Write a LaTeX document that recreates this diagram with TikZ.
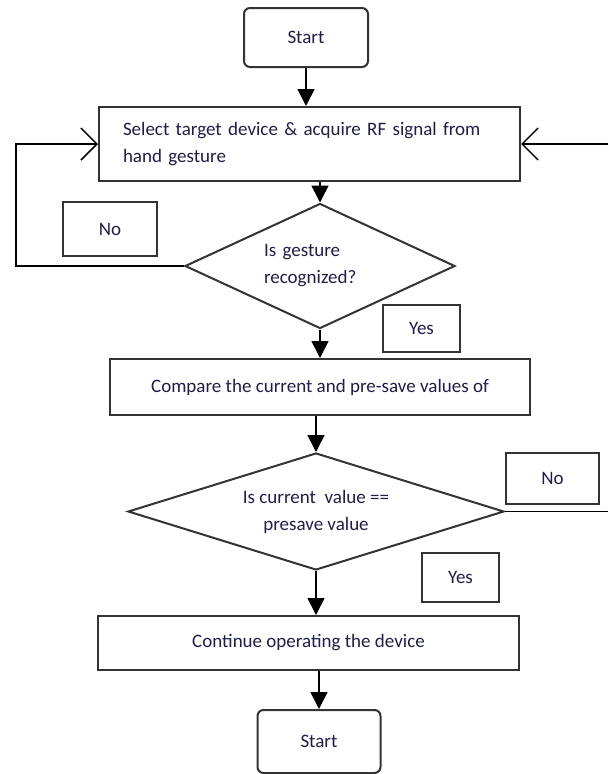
\documentclass[tikz,border=0pt]{standalone}
\usepackage{fontspec}
\setmainfont{Carlito}
\usetikzlibrary{shapes.geometric, arrows.meta}

\definecolor{inkblue}{RGB}{30, 30, 70}

\tikzset{
	box/.style = {draw = black!80, line width = 2pt, text = inkblue, inner sep = 0pt},
	terminal/.style = {box, rounded corners = 6pt},
	decision/.style = {box, diamond, shape aspect = 2},
	tag/.style = {box, line width = 1.8pt},
	flow/.style = {line width = 1.6pt, -{Triangle[length = 17pt, width = 17pt]}},
	loop/.style = {line width = 1.5pt, -{Straight Barb[length = 16pt, width = 32pt, line width = 1.5pt]}}
}

\begin{document}
\begin{tikzpicture}[x = 1pt, y = -1pt, every node/.style = {font = \fontsize{19}{27}\selectfont}]

	\useasboundingbox (0, 0) rectangle (608, 774);

	% Terminals

	\node [terminal, minimum width = 124pt, minimum height = 59pt] (begin) at (306, 37.5) {Start};
	\node [terminal, minimum width = 123pt, minimum height = 63pt] (finish) at (319, 741.5) {Start};

	% Process boxes

	\node [box, minimum width = 421pt, minimum height = 74pt, text width = 373pt, align = left] (select) at (309.5, 144)
		{Select target device \& acquire RF signal from\\hand gesture};
	\node [box, minimum width = 420pt, minimum height = 56pt] (compare) at (320, 387)
		{Compare the current and pre-save values of};
	\node [box, minimum width = 421pt, minimum height = 54pt] (operate) at (308.5, 643)
		{Continue operating the device};

	% Decisions

	\node [decision, minimum width = 270pt, minimum height = 125pt, text width = 112pt, align = left] (gesture) at (320, 266)
		{Is gesture\\recognized?};
	\node [decision, minimum width = 376pt, minimum height = 117pt, align = center] (match) at (316, 511.5)
		{Is current\ \ value ==\\presave value};

	% Yes / No tags

	\node [tag, minimum width = 94pt, minimum height = 54pt] (noA) at (110, 229) {No};
	\node [tag, minimum width = 77pt, minimum height = 47pt] (yesA) at (421.5, 328.5) {Yes};
	\node [tag, minimum width = 93pt, minimum height = 51pt] (noB) at (552.5, 478.5) {No};
	\node [tag, minimum width = 77pt, minimum height = 49pt] (yesB) at (460.5, 577.5) {Yes};

	% Main flow

	\draw [flow] (begin) -- (begin |- select.north);
	\draw [flow] (gesture |- select.south) -- (gesture.north);
	\draw [flow] (gesture.south) -- (gesture |- compare.north);
	\draw [flow] (match |- compare.south) -- (match.north);
	\draw [flow] (match.south) -- (match |- operate.north);
	\draw [flow] (operate.south -| finish) -- (finish.north);

	% Feedback lines

	\coordinate (backL) at (16, 144);
	\coordinate (backR) at (608, 144);
	\coordinate (outR) at (608, 511.5);

	\draw [loop] (gesture.west) -| (backL) -- (select.west);
	\draw [loop] (backR) -- (select.east);
	\draw [line width = 1.5pt] (match.east) -- (outR);

\end{tikzpicture}
\end{document}
